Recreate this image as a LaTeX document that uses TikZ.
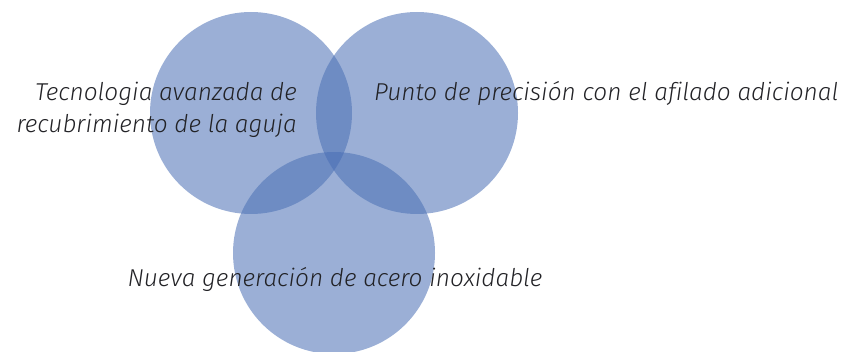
\documentclass[tikz,border=0pt]{standalone}
\usepackage{fontspec}
\setmainfont{Fira Sans}[ItalicFont={Fira Sans Light Italic},Ligatures=NoCommon]
\definecolor{venn}{RGB}{73,110,180}
\definecolor{txt}{RGB}{34,34,38}
\begin{document}
\begin{tikzpicture}[x=1pt,y=-1pt,
  vcircle/.style={circle,fill=venn,fill opacity=0.55,minimum size=202pt,inner sep=0pt},
  lbl/.style={text=txt,font=\fontsize{24.4}{32}\selectfont\itshape,inner sep=0pt}]
\useasboundingbox (0,0) rectangle (845,352);
\node[vcircle] (c1) at (251,113) {};
\node[vcircle] (c2) at (417,113) {};
\node[vcircle] (c3) at (334,253) {};
\node[lbl,anchor=base east] (t1a) at (297,101) {Tecnologia avanzada de};
\node[lbl,anchor=base east] (t1b) at (297,133) {recubrimiento de la aguja};
\node[lbl,anchor=base west] (t2) at (374,101) {Punto de precisión con el afilado adicional};
\node[lbl,anchor=base] (t3) at (335,287) {Nueva generación de acero inoxidable};
\end{tikzpicture}
\end{document}
